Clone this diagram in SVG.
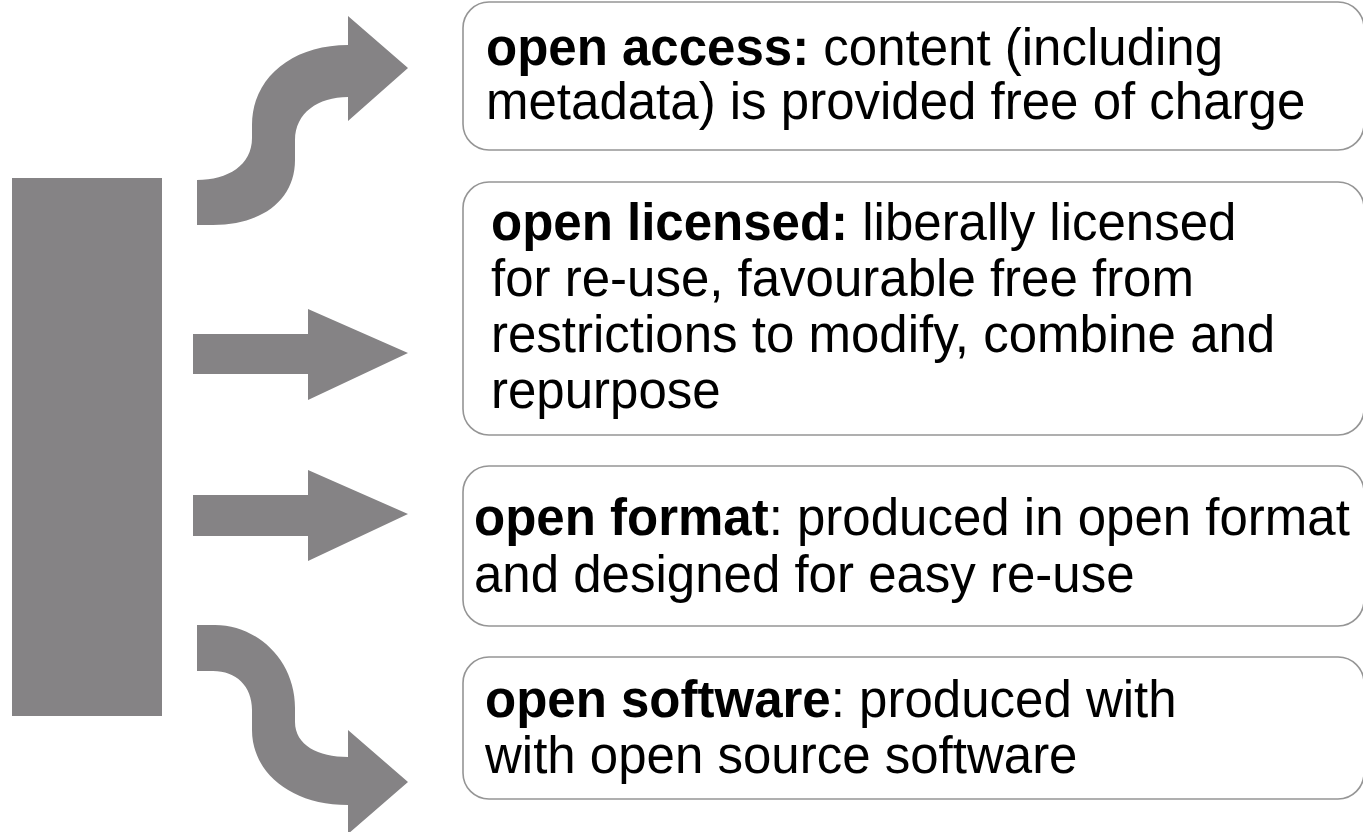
<svg xmlns="http://www.w3.org/2000/svg" width="1363" height="832" viewBox="0 0 1363 832">
<style>
.box{fill:#ffffff;stroke:#959595;stroke-width:1.6}
.shape{fill:#858385;stroke:none}
text{font-family:"Liberation Sans",Arial,sans-serif;font-size:51px;fill:#000}
.b{font-weight:bold}
</style>
<rect width="1363" height="832" fill="#ffffff"/>
<g id="source">
<rect class="shape" x="12" y="178" width="150" height="538"/>
</g>
<g id="connectors">
<path class="shape" d="M197,180 C228,180 252,165 252,138 L252,125 C252,78 292,45 348,45 L348,16 L408,68 L348,121 L348,97 C318,97 295,113 295,140 L295,160 C295,200 262,225 213,225 L197,225 Z"/>
<path class="shape" d="M193,334 L308,334 L308,309 L408,353 L308,400 L308,374 L193,374 Z"/>
<path class="shape" d="M193,495 L308,495 L308,470 L408,514 L308,561 L308,536 L193,536 Z"/>
<path class="shape" d="M197,625 L215,625 C257,625 295,660 295,708 L295,722 C295,745 318,757 348,757 L348,730 L408,782 L348,834 L348,805 C290,805 252,772 252,730 L252,710 C252,686 236,671 213,671 L197,671 Z"/>
</g>
<g id="node-open-access">
<rect class="box" x="463" y="2" width="901" height="148" rx="26" ry="26"/>
<text x="486" y="65"><tspan class="b">open access:</tspan> content (including</text>
<text x="486" y="119">metadata) is provided free of charge</text>
</g>
<g id="node-open-licensed">
<rect class="box" x="463" y="182" width="901" height="253" rx="26" ry="26"/>
<text x="491" y="240"><tspan class="b">open licensed:</tspan> liberally licensed</text>
<text x="491" y="296">for re-use, favourable free from</text>
<text x="491" y="352">restrictions to modify, combine and</text>
<text x="491" y="408">repurpose</text>
</g>
<g id="node-open-format">
<rect class="box" x="463" y="466" width="901" height="160" rx="26" ry="26"/>
<text x="474" y="535"><tspan class="b">open format</tspan>: produced in open format</text>
<text x="474" y="592">and designed for easy re-use</text>
</g>
<g id="node-open-software">
<rect class="box" x="463" y="657" width="901" height="142" rx="26" ry="26"/>
<text x="485" y="717"><tspan class="b">open software</tspan>: produced with</text>
<text x="485" y="773">with open source software</text>
</g>
</svg>
